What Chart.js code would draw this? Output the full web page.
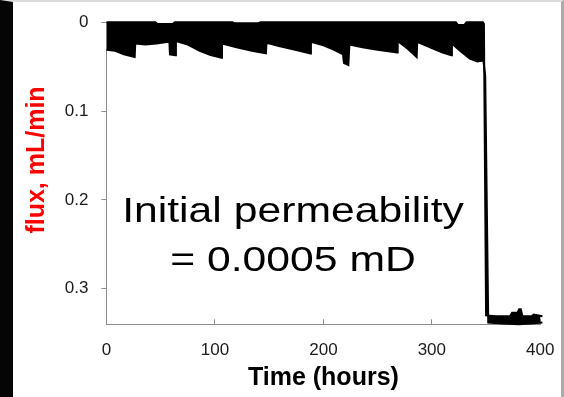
<!DOCTYPE html>
<html>
<head>
<meta charset="utf-8">
<script src="https://cdn.jsdelivr.net/npm/chart.js@4.4.1/dist/chart.umd.min.js"></script>
<style>
  html, body { margin: 0; padding: 0; background: #fff; }
  #frame {
    position: absolute; left: 0; top: 0;
    width: 564px; height: 397px; box-sizing: border-box;
    border-left: 13px solid #050505;
    border-top: 2px solid #dcdcdc;
    border-right: 3px solid #ababab;
    background: #fff;
  }
  canvas { display: block; }
</style>
</head>
<body>
<div id="frame"><canvas id="fluxChart" width="548" height="395"></canvas></div>
<script>
// upper edge of the noisy flux trace (hours, mL/min)
const topTime = [0, 45, 47, 61, 63, 116, 118, 140, 142, 322, 324, 330, 332, 347, 348, 350,
  360, 372, 374, 379, 380.5, 382, 383.5, 392, 394, 402];
const topFlux = [0, 0, 0.002, 0.002, 0, 0, 0.001, 0.001, 0, 0, 0.003, 0.003, 0, 0, 0.002, 0.330,
  0.331, 0.331, 0.327, 0.327, 0.323, 0.323, 0.331, 0.331, 0.329, 0.331];

// lower edge of the trace
const bottomTime = [0, 8, 16, 26, 26.5, 36, 46, 57, 58, 58.5, 63.5, 64, 75, 86, 96, 106,
  106.5, 120, 134, 147, 147.5, 160, 174, 188, 188.5, 200, 210, 218, 219, 223, 224, 236,
  250, 268, 268.5, 278, 286, 286.5, 300, 310, 318, 318.5, 326, 335, 342, 347.5, 349.2, 352,
  365, 380, 392, 402];
const bottomFlux = [0.031, 0.032, 0.036, 0.039, 0.024, 0.025, 0.024, 0.022, 0.022, 0.036, 0.037, 0.021,
  0.025, 0.032, 0.037, 0.040, 0.024, 0.028, 0.032, 0.035, 0.023, 0.027, 0.031, 0.035,
  0.022, 0.026, 0.031, 0.036, 0.046, 0.048, 0.025, 0.028, 0.031, 0.034, 0.021, 0.030,
  0.039, 0.022, 0.029, 0.034, 0.037, 0.024, 0.032, 0.041, 0.044, 0.043, 0.06, 0.338,
  0.339, 0.340, 0.339, 0.338];

const xTicks = [0, 100, 200, 300, 400];
const yTicks = [0, 0.1, 0.2, 0.3];
const noteLines = ["Initial permeability", "= 0.0005 mD"];
const yTitle = "flux, mL/min";

const zip = (xs, ys) => xs.map((x, i) => ({ x, y: ys[i] }));

Chart.defaults.font.family = '"Liberation Sans", Arial, sans-serif';
Chart.defaults.color = "#1a1a1a";

// big note in the middle + red y title
const notes = {
  id: "notes",
  afterDraw(chart) {
    const ctx = chart.ctx;
    ctx.save();
    ctx.fillStyle = "#000";
    ctx.font = '35px "Liberation Sans", Arial, sans-serif';
    ctx.textAlign = "center";
    ctx.textBaseline = "alphabetic";
    noteLines.forEach((t, i) => {
      ctx.save();
      ctx.translate(280, 220 + i * 49);
      ctx.scale(1.22, 1);
      ctx.fillText(t, 0, 0);
      ctx.restore();
    });
    ctx.translate(24.5, 158);
    ctx.rotate(-Math.PI / 2);
    ctx.font = 'bold 25px "Liberation Sans", Arial, sans-serif';
    ctx.fillStyle = "#ff0000";
    ctx.textBaseline = "middle";
    ctx.fillText(yTitle, 0, 0);
    ctx.restore();
  }
};

const axisGray = "#8c8c8c";

new Chart(document.getElementById("fluxChart"), {
  type: "line",
  data: {
    datasets: [
      {
        data: zip(topTime, topFlux),
        borderColor: "#000",
        borderWidth: 2,
        pointRadius: 0,
        fill: false,
        clip: false
      },
      {
        data: zip(bottomTime, bottomFlux),
        borderColor: "#000",
        borderWidth: 2,
        pointRadius: 0,
        backgroundColor: "#000",
        fill: { target: "-1", above: "#000", below: "#000" },
        clip: false
      }
    ]
  },
  options: {
    responsive: false,
    animation: false,
    layout: { padding: { left: 0, top: 20.3, right: 20.7, bottom: 0 } },
    plugins: { legend: { display: false }, tooltip: { enabled: false } },
    scales: {
      x: {
        type: "linear",
        min: 0,
        max: 400,
        afterBuildTicks: s => { s.ticks = xTicks.map(v => ({ value: v })); },
        ticks: { font: { size: 17 }, color: "#1a1a1a", padding: 20.5, maxRotation: 0 },
        grid: { drawOnChartArea: false, tickLength: -5, color: axisGray },
        border: { color: axisGray },
        title: {
          display: true,
          text: "Time (hours)",
          color: "#000",
          font: { size: 25, weight: "bold" },
          padding: { top: 0, bottom: 4 }
        },
        afterFit: s => { s.height = 72.7; s.paddingLeft = 0; s.paddingRight = 0; }
      },
      y: {
        type: "linear",
        reverse: true,
        min: 0,
        max: 0.34,
        afterBuildTicks: s => { s.ticks = yTicks.map(v => ({ value: v })); },
        ticks: { font: { size: 17 }, color: "#1a1a1a", padding: 13, callback: v => String(v) },
        grid: { drawOnChartArea: false, tickLength: 5, color: axisGray },
        border: { color: axisGray },
        afterFit: s => { s.width = 93.5; s.paddingTop = 0; s.paddingBottom = 0; }
      }
    }
  },
  plugins: [notes]
});
</script>
</body>
</html>
